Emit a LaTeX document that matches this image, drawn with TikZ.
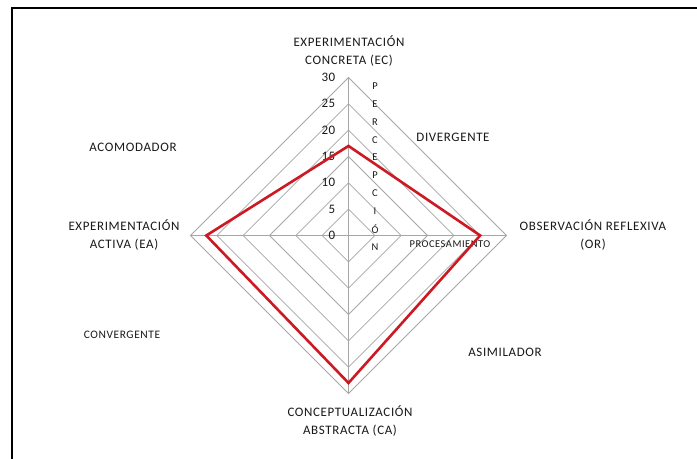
\documentclass[tikz,border=0pt]{standalone}
\usepackage{fontspec}
\setmainfont{Carlito}[LetterSpace=5]
\definecolor{datared}{RGB}{205,25,35}
\begin{document}
\begin{tikzpicture}[x=1bp,y=-1bp,
  grid/.style={draw=black!35, line width=0.8bp},
  lbl/.style={font=\fontsize{13}{18}\selectfont, text=black!90, align=center, inner sep=0},
  small/.style={font=\fontsize{10.5}{12}\selectfont, text=black!90, inner sep=0},
  num/.style={font=\fontsize{13}{15}\selectfont, anchor=east, inner sep=0, text=black!90},
  data/.style={draw=datared, line width=2.6bp, line join=miter},
  frame/.style={draw=black, line width=2.2bp}]
\useasboundingbox (0,0) rectangle (697,459);
\fill[white] (0,0) rectangle (697,459);
\coordinate (c) at (348.5,235.5);
% grid diamonds
\foreach \k in {1,...,6} {
  \pgfmathsetmacro\rr{158*\k/6}
  \draw[grid] ([shift={(0,-\rr)}]c) -- ([shift={(\rr,0)}]c) -- ([shift={(0,\rr)}]c) -- ([shift={(-\rr,0)}]c) -- cycle;
}
\coordinate (t) at ([shift={(0,-158)}]c);
\coordinate (b) at ([shift={(0,158)}]c);
\coordinate (l) at ([shift={(-158,0)}]c);
\coordinate (r) at ([shift={(158,0)}]c);
\draw[grid] (t) -- (b);
\draw[grid] (l) -- (r);
% scale numbers
\foreach \v in {0,5,...,30} {
  \node[num] (num\v) at ([shift={(-13,{-158*\v/30})}]c) {\v};
}
% PERCEPCION letters
\foreach \ch [count=\i] in {P,E,R,C,E,P,C,I,Ó,N} {
  \node[small] (p\i) at (375,{86+17.9*(\i-1)}) {\ch};
}
\node[small] (proc) at (450,244) {PROCESAMIENTO};
% axis labels
\node[lbl] (ec) at (349,51) {EXPERIMENTACIÓN\\CONCRETA (EC)};
\node[lbl] (ea) at (124,235) {EXPERIMENTACIÓN\\ACTIVA (EA)};
\node[lbl] (or) at (593,235) {OBSERVACIÓN REFLEXIVA\\(OR)};
\node[lbl] (ca) at (350,421) {CONCEPTUALIZACIÓN\\ABSTRACTA (CA)};
% quadrant labels
\node[lbl] (div) at (453,137) {DIVERGENTE};
\node[lbl] (aco) at (133,147) {ACOMODADOR};
\node[small, font=\fontsize{11.5}{13}\selectfont] (conv) at (122,335) {CONVERGENTE};
\node[lbl] (asim) at (505,352) {ASIMILADOR};
% data
\coordinate (dEC) at ([shift={(0,{-158*17/30})}]c);
\coordinate (dOR) at ([shift={({158*25/30},0)}]c);
\coordinate (dCA) at ([shift={(0,{158*28/30})}]c);
\coordinate (dEA) at ([shift={({-158*27/30},0)}]c);
\draw[data] (dEC) -- (dOR) -- (dCA) -- (dEA) -- cycle;
% frame
\coordinate (f1) at (12,459);
\coordinate (f2) at (12,8);
\coordinate (f3) at (697,8);
\draw[frame] (f1) -- (f2) -- (f3);
\end{tikzpicture}
\end{document}
